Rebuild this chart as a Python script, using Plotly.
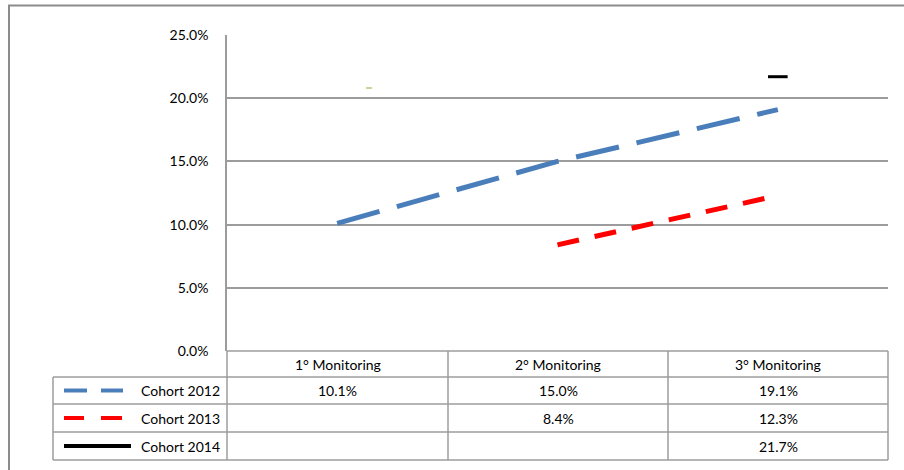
import plotly.graph_objects as go

categories = ["1° Monitoring", "2° Monitoring", "3° Monitoring"]
series_names = ["Cohort 2012", "Cohort 2013", "Cohort 2014"]
cohort_2012 = [0.101, 0.150, 0.191]
cohort_2013 = [None, 0.084, 0.123]
cohort_2014 = [None, None, 0.217]
series_values = [cohort_2012, cohort_2013, cohort_2014]
y_ticks = [0.0, 0.05, 0.10, 0.15, 0.20, 0.25]

W, H = 904, 470
FONT = "Lato"
GRID = "#9c9c9c"


def px(x):
    return x / W


def py(y):
    return 1 - y / H


PL, PR, PT, PB = 227, 888, 35, 351
ROWS = [351, 377, 404, 432, 460]
COLS = [53, 227, 448, 668, 888]

fig = go.Figure()

fig.add_trace(go.Scatter(x=categories, y=cohort_2012, mode="lines", name=series_names[0],
                         line=dict(color="#4a7ebb", width=5, dash="44px,18px")))
fig.add_trace(go.Scatter(x=categories, y=cohort_2013, mode="lines", name=series_names[1],
                         line=dict(color="#ff0000", width=5, dash="22px,16px")))
fig.add_trace(go.Scatter(x=categories, y=cohort_2014, mode="markers", name=series_names[2],
                         marker=dict(symbol="line-ew", size=14,
                                     line=dict(color="black", width=3))))

shapes = []
# outer frame
shapes.append(dict(type="line", xref="paper", yref="paper", x0=px(8), x1=px(904), y0=py(5.5), y1=py(5.5),
                   line=dict(color="#8c8c8c", width=2)))
shapes.append(dict(type="line", xref="paper", yref="paper", x0=px(9), x1=px(9), y0=py(5), y1=py(470),
                   line=dict(color="#8c8c8c", width=2)))
# table horizontal lines
for i, r in enumerate(ROWS):
    x0 = PL if i == 0 else COLS[0]
    shapes.append(dict(type="line", xref="paper", yref="paper", x0=px(x0), x1=px(PR), y0=py(r), y1=py(r),
                       line=dict(color=GRID, width=1.5)))
# table vertical lines
for j, c in enumerate(COLS):
    y0 = ROWS[1] if j == 0 else ROWS[0]
    shapes.append(dict(type="line", xref="paper", yref="paper", x0=px(c), x1=px(c), y0=py(y0), y1=py(ROWS[-1]),
                       line=dict(color=GRID, width=1.5)))
# small stray green mark
shapes.append(dict(type="line", xref="paper", yref="paper", x0=px(366), x1=px(372), y0=py(88), y1=py(88),
                   line=dict(color="#c3d69b", width=2)))

# legend keys in table
key_y = [(ROWS[1] + ROWS[2]) / 2, (ROWS[2] + ROWS[3]) / 2, (ROWS[3] + ROWS[4]) / 2]
shapes.append(dict(type="line", xref="paper", yref="paper", x0=px(64), x1=px(87), y0=py(key_y[0]), y1=py(key_y[0]),
                   line=dict(color="#4a7ebb", width=4)))
shapes.append(dict(type="line", xref="paper", yref="paper", x0=px(101), x1=px(123), y0=py(key_y[0]), y1=py(key_y[0]),
                   line=dict(color="#4a7ebb", width=4)))
shapes.append(dict(type="line", xref="paper", yref="paper", x0=px(64), x1=px(84), y0=py(key_y[1]), y1=py(key_y[1]),
                   line=dict(color="#ff0000", width=4)))
shapes.append(dict(type="line", xref="paper", yref="paper", x0=px(101), x1=px(122), y0=py(key_y[1]), y1=py(key_y[1]),
                   line=dict(color="#ff0000", width=4)))
shapes.append(dict(type="line", xref="paper", yref="paper", x0=px(64), x1=px(131), y0=py(key_y[2]), y1=py(key_y[2]),
                   line=dict(color="black", width=4)))

annotations = []
tfont = dict(family=FONT, size=14, color="black")
hdr_y = (ROWS[0] + ROWS[1]) / 2
for j, cat in enumerate(categories):
    cx = (COLS[j + 1] + COLS[j + 2]) / 2
    annotations.append(dict(xref="paper", yref="paper", x=px(cx), y=py(hdr_y), text=cat, showarrow=False,
                            xanchor="center", yanchor="middle", font=tfont))
for i, (name, vals) in enumerate(zip(series_names, series_values)):
    annotations.append(dict(xref="paper", yref="paper", x=px(222), y=py(key_y[i]), text=name, showarrow=False,
                            xanchor="right", yanchor="middle", font=tfont))
    for j, v in enumerate(vals):
        if v is None:
            continue
        cx = (COLS[j + 1] + COLS[j + 2]) / 2
        annotations.append(dict(xref="paper", yref="paper", x=px(cx), y=py(key_y[i]), text=f"{v*100:.1f}%",
                                showarrow=False, xanchor="center", yanchor="middle", font=tfont))

fig.update_layout(
    width=W, height=H,
    margin=dict(l=0, r=0, t=0, b=0, pad=0, autoexpand=False),
    paper_bgcolor="white", plot_bgcolor="white",
    showlegend=False,
    font=dict(family=FONT, size=14, color="black"),
    xaxis=dict(domain=[px(PL), px(PR)], type="category", range=[-0.5, 2.5], showgrid=False,
               showticklabels=False, zeroline=False, showline=False, fixedrange=True, automargin=False),
    yaxis=dict(domain=[py(PB), py(PT)], range=[0, 0.25], tickvals=y_ticks, tickformat=".1%",
               showgrid=True, gridcolor=GRID, gridwidth=1.5, zeroline=False, automargin=False,
               showline=True, linecolor=GRID, linewidth=1.5, ticks="", ticklabelstandoff=14,
               tickfont=dict(family=FONT, size=14, color="black")),
    shapes=shapes,
    annotations=annotations,
)

fig.write_html("out.html")
